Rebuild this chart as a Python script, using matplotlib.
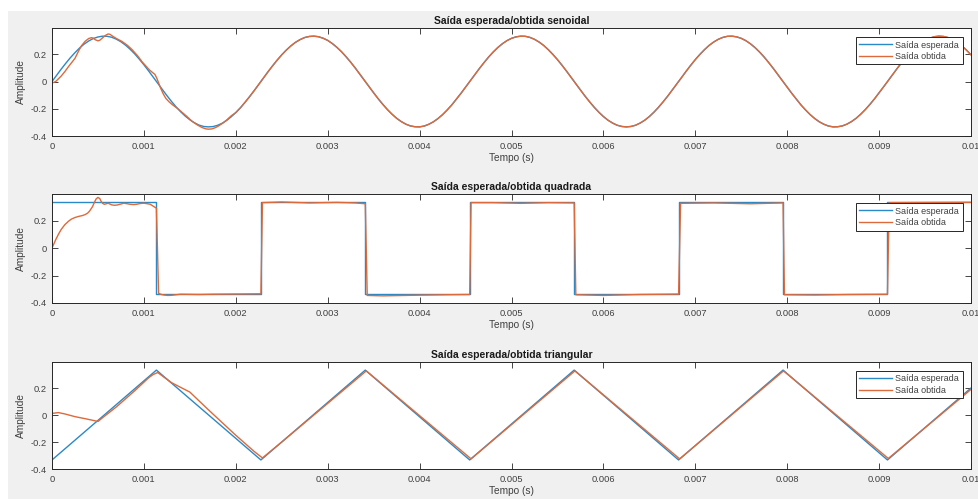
import numpy as np
import matplotlib.pyplot as plt
from matplotlib.patches import Rectangle

plt.rcParams['font.family'] = ['Liberation Sans', 'DejaVu Sans']

# sine: expected output sampled every 0.05 ms
t_sine = np.linspace(0, 0.01, 201)
sine_esp = [0.000, 0.046, 0.091, 0.134, 0.175, 0.212, 0.246, 0.275, 0.298, 0.316,
            0.327, 0.333, 0.332, 0.325, 0.311, 0.292, 0.267, 0.237, 0.203, 0.164,
            0.123, 0.079, 0.033, -0.013, -0.058, -0.103, -0.146, -0.186, -0.222, -0.254,
            -0.281, -0.303, -0.320, -0.330, -0.333, -0.331, -0.322, -0.307, -0.286, -0.259,
            -0.228, -0.193, -0.153, -0.111, -0.067, -0.021, 0.025, 0.071, 0.115, 0.157,
            0.196, 0.231, 0.262, 0.288, 0.308, 0.323, 0.331, 0.333, 0.329, 0.318,
            0.302, 0.279, 0.251, 0.219, 0.182, 0.142, 0.099, 0.054, 0.008, -0.038,
            -0.083, -0.127, -0.168, -0.206, -0.240, -0.270, -0.294, -0.313, -0.326, -0.332,
            -0.333, -0.327, -0.314, -0.296, -0.272, -0.243, -0.209, -0.172, -0.130, -0.087,
            -0.042, 0.004, 0.050, 0.095, 0.138, 0.179, 0.216, 0.249, 0.277, 0.300,
            0.317, 0.328, 0.333, 0.332, 0.324, 0.310, 0.290, 0.265, 0.234, 0.199,
            0.161, 0.119, 0.075, 0.029, -0.017, -0.062, -0.107, -0.149, -0.189, -0.225,
            -0.257, -0.284, -0.305, -0.321, -0.330, -0.333, -0.330, -0.321, -0.305, -0.284,
            -0.257, -0.225, -0.189, -0.149, -0.107, -0.062, -0.017, 0.029, 0.075, 0.119,
            0.161, 0.199, 0.234, 0.265, 0.290, 0.310, 0.324, 0.332, 0.333, 0.328,
            0.317, 0.300, 0.277, 0.249, 0.216, 0.179, 0.138, 0.095, 0.050, 0.004,
            -0.042, -0.087, -0.130, -0.172, -0.209, -0.243, -0.272, -0.296, -0.314, -0.327,
            -0.333, -0.332, -0.326, -0.313, -0.294, -0.270, -0.240, -0.206, -0.168, -0.127,
            -0.083, -0.038, 0.008, 0.054, 0.099, 0.142, 0.182, 0.219, 0.251, 0.279,
            0.302, 0.318, 0.329, 0.333, 0.331, 0.323, 0.308, 0.288, 0.262, 0.231,
            0.196]

# obtained sine: transient in the first 2 ms, then it sits on the expected curve
t_sine_obt_ini = [0, 0.00004, 0.00007, 0.00010, 0.00014, 0.00018, 0.00022, 0.00025, 0.00029,
                  0.00032, 0.00036, 0.00040, 0.00043, 0.00045, 0.00047, 0.00050, 0.00052,
                  0.00055, 0.00058, 0.00061, 0.00063, 0.00066, 0.00070, 0.00076, 0.00082,
                  0.00087, 0.00093, 0.00098, 0.00102, 0.00106, 0.00109, 0.00112, 0.00114,
                  0.00116, 0.00118, 0.00121, 0.00124, 0.00128, 0.00131, 0.00136, 0.00141,
                  0.00147, 0.00152, 0.00158, 0.00163, 0.00167, 0.00170, 0.00174, 0.00178,
                  0.00181, 0.00186, 0.00190, 0.00195]
sine_obt_ini = [-0.012, 0.000, 0.020, 0.040, 0.073, 0.110, 0.145, 0.170, 0.225,
                0.262, 0.295, 0.316, 0.322, 0.318, 0.307, 0.299, 0.303,
                0.320, 0.338, 0.349, 0.347, 0.333, 0.316, 0.295, 0.266,
                0.235, 0.190, 0.145, 0.115, 0.085, 0.068, 0.052, 0.025,
                -0.010, -0.045, -0.090, -0.125, -0.153, -0.170, -0.195, -0.223,
                -0.258, -0.290, -0.318, -0.337, -0.347, -0.350, -0.348, -0.338,
                -0.327, -0.305, -0.283, -0.252]
t_sine_obt = list(t_sine_obt_ini) + list(t_sine[40:])
sine_obt = sine_obt_ini + sine_esp[40:]

# square
t_quad = [0, 0.001136, 0.001136, 0.002273, 0.002273, 0.003409, 0.003409, 0.004545, 0.004545,
          0.005682, 0.005682, 0.006818, 0.006818, 0.007955, 0.007955, 0.009091, 0.009091, 0.01]
quad_esp = [0.333, 0.333, -0.333, -0.333, 0.333, 0.333, -0.333, -0.333, 0.333,
            0.333, -0.333, -0.333, 0.333, 0.333, -0.333, -0.333, 0.333, 0.333]

t_quad_obt = [0, 0.00004, 0.00007, 0.00010, 0.00014, 0.00018, 0.00021, 0.00025, 0.00029,
              0.00033, 0.00036, 0.00039, 0.00041, 0.00044, 0.00046, 0.00048, 0.00050,
              0.00052, 0.00053, 0.00055, 0.00057, 0.00059, 0.00061, 0.00063, 0.00065,
              0.00068, 0.00071, 0.00075, 0.00078, 0.00082, 0.00085, 0.00089, 0.00092,
              0.00096, 0.00100, 0.00104, 0.00107, 0.00110, 0.001136, 0.00116, 0.00119,
              0.00122, 0.00126, 0.00130, 0.00135, 0.00140, 0.00150, 0.00160, 0.00175,
              0.00190, 0.00210, 0.002273, 0.00229, 0.00250, 0.00280, 0.00310, 0.00330,
              0.003409, 0.00343, 0.00360, 0.00400, 0.00430, 0.004545, 0.00456, 0.00480,
              0.00510, 0.00540, 0.005682, 0.00570, 0.00600, 0.00640, 0.006818, 0.00684,
              0.00720, 0.00760, 0.007955, 0.00797, 0.00830, 0.00870, 0.009091, 0.00911,
              0.01]
quad_obt = [0.000, 0.060, 0.100, 0.135, 0.170, 0.195, 0.210, 0.222, 0.230,
            0.236, 0.243, 0.255, 0.270, 0.300, 0.330, 0.357, 0.368,
            0.360, 0.345, 0.325, 0.318, 0.322, 0.326, 0.320, 0.314,
            0.311, 0.313, 0.320, 0.326, 0.322, 0.318, 0.316, 0.318,
            0.324, 0.326, 0.322, 0.318, 0.305, 0.290, -0.330, -0.338,
            -0.342, -0.345, -0.344, -0.340, -0.336, -0.337, -0.338, -0.336,
            -0.335, -0.334, -0.333, 0.330, 0.335, 0.328, 0.332, 0.328,
            0.322, -0.345, -0.348, -0.343, -0.340, -0.338, 0.330, 0.330,
            0.325, 0.330, 0.328, -0.340, -0.345, -0.338, -0.335, 0.325,
            0.328, 0.322, 0.328, -0.340, -0.342, -0.338, -0.336, 0.330,
            0.333]

# triangle
t_tri = [0, 0.001136, 0.002273, 0.003409, 0.004545, 0.005682, 0.006818, 0.007955, 0.009091, 0.01]
tri_esp = [-0.333, 0.333, -0.333, 0.333, -0.333, 0.333, -0.333, 0.333, -0.333, 0.200]

t_tri_obt = [0, 0.00007, 0.00014, 0.00025, 0.00036, 0.00045, 0.00050, 0.00055, 0.00070,
             0.00090, 0.00105, 0.00110, 0.00115, 0.00130, 0.00150, 0.00170, 0.00200,
             0.00220, 0.00229, 0.00250, 0.00342, 0.00456, 0.00569, 0.00683, 0.00796,
             0.00910, 0.01]
tri_obt = [0.012, 0.018, 0.008, -0.012, -0.027, -0.040, -0.048, -0.020, 0.060,
           0.180, 0.275, 0.300, 0.315, 0.240, 0.170, 0.040, -0.150,
           -0.270, -0.318, -0.200, 0.327, -0.325, 0.327, -0.325, 0.327,
           -0.322, 0.190]

titles = ['Saída esperada/obtida senoidal', 'Saída esperada/obtida quadrada',
          'Saída esperada/obtida triangular']
xticks = [0, 0.001, 0.002, 0.003, 0.004, 0.005, 0.006, 0.007, 0.008, 0.009, 0.01]
xtick_labels = ['0', '0.001', '0.002', '0.003', '0.004', '0.005', '0.006', '0.007',
                '0.008', '0.009', '0.01']
yticks = [-0.4, -0.2, 0, 0.2]
ytick_labels = ['-0.4', '-0.2', '0', '0.2']

series = [
    (t_sine, sine_esp, t_sine_obt, sine_obt),
    (t_quad, quad_esp, t_quad_obt, quad_obt),
    (t_tri, tri_esp, t_tri_obt, tri_obt),
]

BLUE = '#2a89c6'
ORANGE = '#dc6a3c'
TXT = '#404040'

fig = plt.figure(figsize=(9.79, 4.99), dpi=100, facecolor='white')
# gray MATLAB figure background (screenshot has a thin white margin)
fig.patches.append(Rectangle((8 / 979, 0), 1, 1 - 11 / 499, transform=fig.transFigure,
                             facecolor='#f0f0f0', edgecolor='none', zorder=-10))

# axes boxes in pixels: (top, bottom)
boxes = [(28, 136), (194, 303), (362, 469)]
left, right = 52, 971

for (top, bot), title, (t1, y1, t2, y2) in zip(boxes, titles, series):
    ax = fig.add_axes([left / 979, 1 - bot / 499, (right - left) / 979, (bot - top) / 499])
    ax.plot(t1, y1, color=BLUE, lw=1.0, label='Saída esperada')
    ax.plot(t2, y2, color=ORANGE, lw=1.0, label='Saída obtida')
    ax.set_xlim(0, 0.01)
    ax.set_ylim(-0.4, 0.393)
    ax.set_xticks(xticks)
    ax.set_xticklabels(xtick_labels)
    ax.set_yticks(yticks)
    ax.set_yticklabels(ytick_labels)
    ax.tick_params(direction='in', length=4, width=0.6, top=True, right=True,
                   labelsize=6.7, colors='#262626', labelcolor=TXT, pad=4)
    for sp in ax.spines.values():
        sp.set_color('#262626')
        sp.set_linewidth(0.7)
    ax.set_title(title, fontsize=7.5, fontweight='bold', color='#1a1a1a', pad=3)
    ax.set_xlabel('Tempo (s)', fontsize=7.3, color=TXT, labelpad=2)
    ax.set_ylabel('Amplitude', fontsize=7.3, color=TXT, labelpad=3)
    leg = ax.legend(loc='upper right', bbox_to_anchor=(0.991, 0.917), borderaxespad=0,
                    fontsize=6.5, fancybox=False, framealpha=1, edgecolor='#262626',
                    handlelength=3.6, handletextpad=0.4, borderpad=0.4, labelspacing=0.25)
    leg.get_frame().set_linewidth(0.7)
    for txt in leg.get_texts():
        txt.set_color(TXT)

fig.savefig('out.png', dpi=100, facecolor=fig.get_facecolor())
